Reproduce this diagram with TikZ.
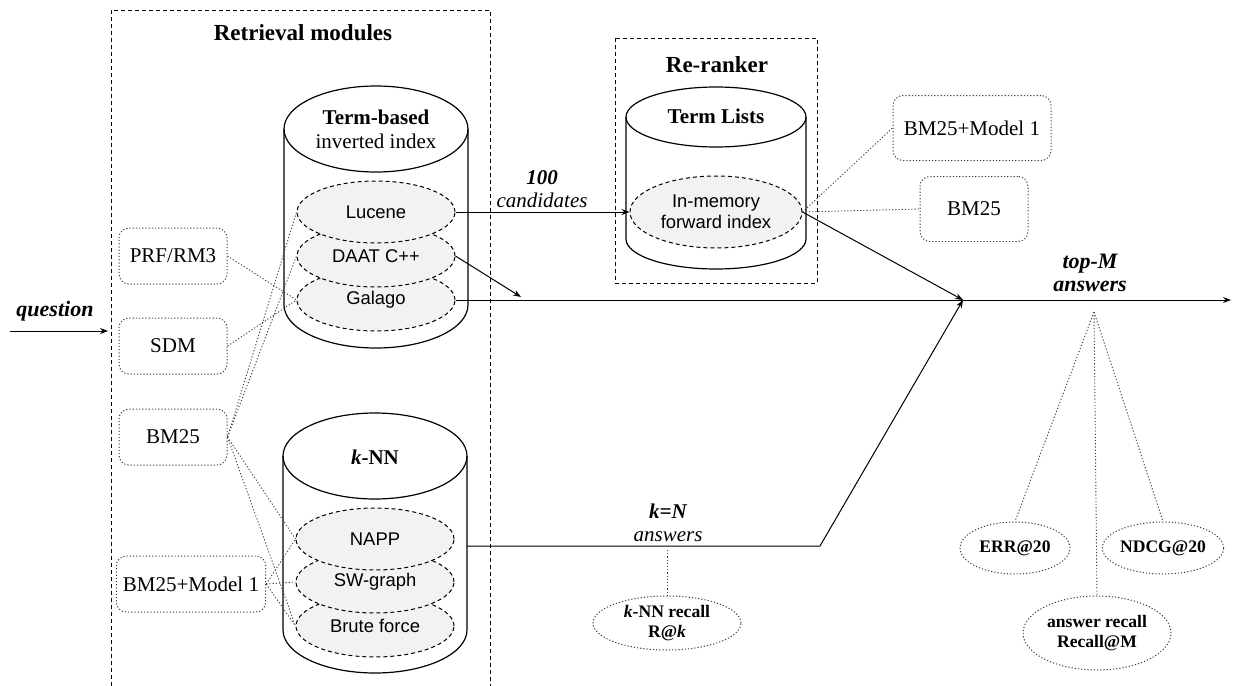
\documentclass[tikz,border=0pt]{standalone}
\usepackage{fontspec}
\setmainfont{Liberation Serif}
\newfontfamily\arialfont{Liberation Sans}
\usetikzlibrary{arrows.meta,shapes.geometric}

\tikzset{
	frame/.style={draw, line width=0.5pt, dash pattern=on 2pt off 1.5pt},
	cyl/.style={draw, line width=0.6pt},
	title/.style={font=\bfseries\fontsize{11.5}{13}\selectfont},
	cyltext/.style={align=center, font=\fontsize{10.5}{12}\selectfont},
	index/.style={ellipse, draw, line width=0.5pt, dash pattern=on 2pt off 1.5pt, fill=black!5, inner sep=0pt,
		minimum width=79pt, minimum height=31pt, align=center, font=\arialfont\fontsize{9.2}{10.5}\selectfont},
	modbox/.style={draw=black!75, line width=0.5pt, dash pattern=on 0.6pt off 1pt, rounded corners=5pt,
		minimum width=54pt, minimum height=28pt, align=center, font=\fontsize{10.5}{12}\selectfont},
	metric/.style={ellipse, draw=black!75, line width=0.5pt, dash pattern=on 0.6pt off 1pt, inner sep=0pt,
		align=center, font=\bfseries\fontsize{8.8}{10}\selectfont},
	dotline/.style={draw=black!75, line width=0.45pt, dash pattern=on 0.6pt off 1pt},
	link/.style={line width=0.5pt, -{Stealth[length=4pt,width=3pt]}},
	flowlabel/.style={align=center, font=\itshape\fontsize{10.5}{11.5}\selectfont}
}

\begin{document}
\begin{tikzpicture}[x=0.5pt, y=-0.5pt]
	\useasboundingbox (0,0) rectangle (1233,686);

	% retrieval modules
	\draw[frame] (111,686) -- (111,10) -- (490,10) -- (490,686);
	\node[title] (rettitle) at (303,33) {Retrieval modules};

	\draw[cyl] (284,129) -- (284,305) arc (180:0:92 and 43) -- (468,129);
	\draw[cyl] (376,129) ellipse (92 and 43);
	\node[cyltext] (termtitle) at (376,129) {\textbf{Term-based}\\inverted index};
	\node[index] (galago) at (376,300) {Galago};
	\node[index] (daat) at (376,256) {DAAT C++};
	\node[index] (lucene) at (376,212) {Lucene};

	\draw[cyl] (283,456) -- (283,630) arc (180:0:92 and 43) -- (467,456);
	\draw[cyl] (375,456) ellipse (92 and 43);
	\node[cyltext] (knntitle) at (375,457) {\textbf{\textit{k}-NN}};
	\node[index] (brute) at (375,626) {Brute force};
	\node[index] (swgraph) at (375,582) {SW-graph};
	\node[index] (napp) at (375,539) {NAPP};

	\node[modbox] (prf) at (173,256) {PRF/RM3};
	\node[modbox] (sdm) at (173,346) {SDM};
	\node[modbox] (bmleft) at (173,437) {BM25};
	\node[modbox, minimum width=72pt] (bmmleft) at (191,584) {BM25+Model 1};

	\draw[dotline] (prf.east) -- (galago.west);
	\draw[dotline] (sdm.east) -- (galago.west);
	\draw[dotline] (bmleft.east) -- (lucene.west);
	\draw[dotline] (bmleft.east) -- (daat.west);
	\draw[dotline] (bmleft.east) -- (napp.west);
	\draw[dotline] (bmleft.east) -- (brute.west);
	\draw[dotline] (bmmleft.east) -- (napp.west);
	\draw[dotline] (bmmleft.east) -- (swgraph.west);
	\draw[dotline] (bmmleft.east) -- (brute.west);

	% question
	\coordinate (qstart) at (10,331);
	\coordinate (qend) at (108,331);
	\draw[link] (qstart) -- (qend);
	\node[font=\bfseries\itshape\fontsize{11}{13}\selectfont] (question) at (55,311) {question};

	% re-ranker
	\draw[frame] (615,38) rectangle (817,283);
	\node[title] (retitle) at (717,65) {Re-ranker};
	\draw[cyl] (626,117) -- (626,239) arc (180:0:90 and 30) -- (806,117);
	\draw[cyl] (716,117) ellipse (90 and 30);
	\node[cyltext] (listtitle) at (716,116) {\textbf{Term Lists}};
	\node[index, minimum width=86pt, minimum height=36pt] (inmem) at (716,212) {In-memory\\forward index};

	\node[modbox, minimum width=79pt, minimum height=32.5pt] (bmmright) at (972,128) {BM25+Model 1};
	\node[modbox, minimum height=32.5pt] (bmright) at (974,209) {BM25};
	\draw[dotline] (inmem.east) -- (bmmright.west);
	\draw[dotline] (inmem.east) -- (bmright.west);

	% flow of candidates and answers
	\coordinate (join) at (963,300);
	\coordinate (outend) at (1231,300);
	\coordinate (daattip) at (521,297);
	\coordinate (knnout) at (467,546);
	\coordinate (bend) at (820,546);
	\draw[link] (lucene.east) -- (inmem.west);
	\draw[link] (daat.east) -- (daattip);
	\draw[link] (galago.east) -- (outend);
	\draw[link] (inmem.east) -- (join);
	\draw[link] (knnout) -- (bend) -- (join);

	\node[flowlabel] (candlabel) at (542,189) {\textbf{100}\\candidates};
	\node[flowlabel] (knnlabel) at (668,523) {\textbf{k=N}\\answers};
	\node[flowlabel, font=\bfseries\itshape\fontsize{11}{11.5}\selectfont] (toplabel) at (1090,273) {top-M\\answers};

	% measures
	\coordinate (knntap) at (667,550);
	\node[metric, minimum width=74pt, minimum height=27pt] (knnrec) at (667,623) {\textit{k}-NN recall\\R@\textit{k}};
	\draw[dotline] (knntap) -- (knnrec.north);

	\coordinate (apex) at (1094,312);
	\node[metric, minimum width=55pt, minimum height=26pt] (err) at (1015,548) {ERR@20};
	\node[metric, minimum width=55pt, minimum height=26pt] (ndcg) at (1163,548) {NDCG@20};
	\node[metric, minimum width=74pt, minimum height=37pt] (ansrec) at (1097,633) {answer recall\\Recall@M};
	\draw[dotline] (apex) -- (err.north);
	\draw[dotline] (apex) -- (ndcg.north);
	\draw[dotline] (apex) -- (ansrec.north);
\end{tikzpicture}
\end{document}
